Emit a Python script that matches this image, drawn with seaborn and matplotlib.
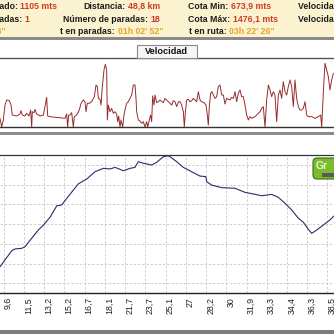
import matplotlib
matplotlib.use("Agg")
import matplotlib.pyplot as plt
import seaborn as sns
from matplotlib.patches import Rectangle, FancyBboxPatch
from matplotlib.transforms import ScaledTranslation

# ---------------- data ----------------
tick_labels = ["9,6", "11,5", "13,2", "15,2", "16,7", "18,1", "21,7", "23,7", "25,1",
               "27", "28,2", "30", "31,9", "33,3", "34,4", "36,3", "38,5"]

elev_pos = [-0.17, 0.07, 0.41, 0.57, 0.90, 1.06, 1.39, 1.72, 1.97, 2.30,
            2.63, 2.87, 3.28, 3.69, 4.11, 4.52, 4.93, 5.26, 5.51, 5.92,
            6.25, 6.49, 6.66, 6.90, 7.32, 7.57, 7.89, 8.14, 8.22, 8.55,
            8.88, 9.29, 9.70, 9.99, 10.04, 10.28, 10.78, 11.43, 11.93, 12.34,
            12.75, 13.24, 13.57, 13.90, 14.23, 14.56, 14.81, 15.05, 15.22, 15.47,
            15.79, 16.12, 16.32]
elev_m = [884, 918, 965, 974, 977, 985, 1028, 1070, 1095, 1135,
          1193, 1197, 1251, 1304, 1329, 1366, 1383, 1380, 1388, 1371,
          1383, 1388, 1417, 1409, 1400, 1414, 1442, 1447, 1442, 1417,
          1388, 1366, 1344, 1341, 1315, 1298, 1285, 1282, 1261, 1253,
          1244, 1251, 1236, 1206, 1172, 1130, 1109, 1074, 1053, 1070,
          1095, 1121, 1141]

speed_sample = [0, 5, 10, 15, 20, 28, 33, 37, 50, 60,
                63, 67, 75, 80, 87, 92, 95, 97, 102, 105,
                110, 120, 130, 135, 140, 143, 150, 165, 180, 195,
                200, 203, 206, 210, 215, 220, 223, 230, 238, 243,
                250, 255, 258, 262, 268, 275, 283, 288, 292, 295,
                300, 303, 307, 312, 316, 320, 322, 325, 330, 335,
                340, 345, 350, 353, 356, 360, 363, 368, 372, 376,
                380, 385, 395, 400, 405, 408, 410, 415, 420, 425,
                430, 435, 440, 443, 448, 452, 455, 458, 462, 465,
                470, 475, 480, 490, 495, 500, 505, 510, 515, 520,
                525, 530, 535, 540, 545, 550, 553, 556, 560, 565,
                570, 575, 580, 585, 590, 595, 600, 605, 612, 618,
                622, 625, 628, 632, 636, 640, 645, 650, 655, 660,
                665, 670, 675, 680, 685, 690, 695, 700, 705, 710,
                715, 720, 725, 730, 735, 740, 745, 750, 755, 760,
                765, 770, 775, 780, 785, 790, 795, 800, 805, 810,
                815, 820, 825, 830, 835, 840, 845, 850, 855, 860,
                865, 870, 875, 880, 885, 890, 895, 900, 905, 910,
                915, 920, 925, 935, 945, 955, 962, 965, 968, 972,
                975, 980, 985, 990, 995, 1000]
speed_kmh = [7.5, 0, 6.1, 19.1, 23.5, 22.9, 19.1, 10.4, 9.6, 11.3,
             14.2, 10.4, 9.6, 11.9, 9.6, 14.8, 0, 13.3, 12.5, 15.4,
             11.3, 9.6, 10.4, 17.7, 25.8, 9.6, 9.0, 8.4, 8.1, 7.5,
             11.3, 0, 10.4, 10.4, 12.5, 0, 9.0, 10.4, 14.8, 20.6,
             23.5, 22.0, 13.3, 20.6, 20.6, 22.0, 26.4, 36.5, 35.1, 24.9,
             24.1, 19.1, 35.1, 49.6, 54.5, 49.6, 6.1, 19.1, 13.3, 16.2,
             11.9, 13.3, 11.3, 4.6, 9.6, 0, 6.1, 0, 10.4, 16.2,
             20.6, 22.0, 27.8, 36.5, 36.5, 24.9, 13.3, 6.1, 5.2, 3.2,
             4.6, 0, 4.6, 0, 6.1, 10.4, 4.6, 27.0, 19.1, 27.8,
             21.2, 22.0, 23.5, 21.2, 24.9, 23.5, 22.0, 20.6, 19.1, 22.9,
             22.0, 17.7, 22.0, 22.0, 19.1, 13.3, 0, 12.5, 23.5, 24.1,
             22.0, 22.9, 24.9, 23.5, 22.0, 30.7, 23.5, 22.0, 21.2, 19.1,
             10.4, 1.7, 17.7, 29.3, 30.7, 27.8, 24.9, 26.4, 35.1, 36.5,
             27.8, 27.8, 20.0, 24.9, 24.1, 23.5, 25.8, 24.9, 30.7, 22.0,
             29.3, 32.2, 26.4, 26.4, 19.1, 10.4, 6.1, 9.0, 7.5, 8.4,
             9.0, 10.4, 11.9, 13.3, 16.2, 17.7, 0, 23.5, 36.5, 32.2,
             26.4, 30.7, 27.8, 4.6, 27.8, 32.2, 24.9, 39.4, 30.7, 27.8,
             35.1, 40.9, 35.1, 17.7, 40.9, 24.9, 17.7, 14.8, 14.8, 16.2,
             22.0, 10.4, 9.0, 9.0, 7.5, 9.0, 10.4, 0, 17.7, 40.9,
             55.4, 49.6, 43.8, 32.2, 40.9, 46.7]

header_rows = [
    ["Desnivel acumulado:", "Distancia:", "Cota Min:", "Velocidad media:"],
    ["Paradas:", "Número de paradas:", "Cota Máx:", "Velocidad máxima:"],
    ["", "t en paradas:", "t en ruta:", ""],
]
header_values = [
    ["1105 mts", "48,8 km", "673,9 mts", ""],
    ["1", "18", "1476,1 mts", ""],
    ["04h 25' 18\"", "01h 02' 52\"", "03h 22' 26\"", ""],
]

# ---------------- style ----------------
sns.set_style("white")
plt.rcParams['font.family'] = ['Liberation Sans', 'DejaVu Sans']

W = H = 334
fig = plt.figure(figsize=(3.34, 3.34), dpi=100)
fig.patch.set_facecolor('white')


def fx(px):
    return px / W


def fy(py):
    return 1 - py / H


def frect(x0, y0, x1, y1, **kw):
    fig.patches.append(Rectangle((fx(x0), fy(y1)), fx(x1) - fx(x0), fy(y0) - fy(y1),
                                 transform=fig.transFigure, **kw))


# header band
frect(0, 0, 334, 37, facecolor='#fbf3cf', edgecolor='none', zorder=0)
frect(0, 37, 334, 40, facecolor='#8a8a8a', edgecolor='none', zorder=0)

ax_h = fig.add_axes([0, 0, 1, 1])
ax_h.set_axis_off()
ax_h.set_xlim(0, W)
ax_h.set_ylim(H, 0)
ax_h.patch.set_alpha(0)
ax_h.set_zorder(20)

LABEL_C = '#1c1c1c'
RED = '#cf3a26'
ORANGE = '#e6a42c'
row_y = [6.5, 19.0, 31.5]
fs_h = 6.3
GAP = 2.5
col_layout = [
    [('R', 57.5), ('R', 29.5), ('R', 5.5)],
    [('R', 160), ('R', 160), ('R', 163)],
    [('L', 188), ('L', 188), ('L', 189)],
    [('L', 298), ('L', 298), ('L', 298)],
]
for r in range(3):
    for c in range(4):
        lab = header_rows[r][c]
        val = header_values[r][c]
        mode, x = col_layout[c][r]
        vcol = ORANGE if r == 2 else RED
        kw = dict(fontsize=fs_h, fontweight='bold', va='center')
        if mode == 'L':
            if lab:
                t = ax_h.text(x, row_y[r], lab, ha='left', color=LABEL_C, clip_on=False, **kw)
                if val:
                    ax_h.annotate(val, xy=(1, 0.5), xycoords=t, xytext=(GAP, 0),
                                  textcoords='offset pixels', ha='left', color=vcol,
                                  annotation_clip=False, **kw)
        else:
            if val:
                t = ax_h.text(x, row_y[r], val, ha='right', color=vcol, clip_on=False, **kw)
                if lab:
                    ax_h.annotate(lab, xy=(0, 0.5), xycoords=t, xytext=(-GAP, 0),
                                  textcoords='offset pixels', ha='right', color=LABEL_C,
                                  annotation_clip=False, **kw)

# ---------------- velocity panel ----------------
ax_v = fig.add_axes([0, fy(127), 1, 69 / H])
sns.lineplot(x=speed_sample, y=speed_kmh, ax=ax_v, color='#982c2c', linewidth=0.7,
             estimator=None, sort=False)
ax_v.set_xlim(0, 1002)
ax_v.set_ylim(0, 60)
ax_v.set_xticks([])
ax_v.set_yticks([])
ax_v.set_xlabel("")
ax_v.set_ylabel("")
for s in ['left', 'right']:
    ax_v.spines[s].set_visible(False)
ax_v.spines['top'].set_color('#555555')
ax_v.spines['top'].set_linewidth(1.0)
ax_v.spines['bottom'].set_color('#333333')
ax_v.spines['bottom'].set_linewidth(1.0)

frect(0, 132, 334, 135, facecolor='#8c8c8c', edgecolor='none')

# tab
frect(136.5, 45.5, 197, 58, facecolor='#f6f6f6', edgecolor='#8a8a8a', linewidth=0.8, zorder=5)
fig.text(fx(166.5), fy(51.8), "Velocidad", ha='center', va='center', fontsize=6.6,
         fontweight='bold', color='#111111', zorder=6)

# ---------------- elevation panel ----------------
ax_e = fig.add_axes([0, fy(293), 1, 138 / H])
sns.lineplot(x=elev_pos, y=elev_m, ax=ax_e, color='#2a2d6a', linewidth=0.8,
             estimator=None, sort=False)
ax_e.set_xlim(-0.173, 16.321)
ax_e.set_ylim(750.3, 1450.8)
ax_e.set_yticks([800, 900, 1000, 1100, 1200, 1300, 1400])
ax_e.set_yticklabels([])
ax_e.tick_params(axis='y', length=0)
ax_e.set_xticks(list(range(len(tick_labels))))
ax_e.set_xticklabels(tick_labels, rotation=90, fontsize=6.3, color='#222222',
                     va='top', ha='center')
ax_e.tick_params(axis='x', direction='out', length=7.2, width=0.8, color='#222222', pad=0)
offset = ScaledTranslation(4.5 / 100, 6 / 100, fig.dpi_scale_trans)
for lbl in ax_e.get_xticklabels():
    lbl.set_transform(lbl.get_transform() + offset)
ax_e.grid(True, color='#c9c9c9', linestyle=(0, (3, 2)), linewidth=0.6)
ax_e.set_axisbelow(True)
ax_e.set_xlabel("")
ax_e.set_ylabel("")
for s in ['left', 'right']:
    ax_e.spines[s].set_visible(False)
ax_e.spines['top'].set_color('#333333')
ax_e.spines['top'].set_linewidth(0.9)
ax_e.spines['bottom'].set_color('#222222')
ax_e.spines['bottom'].set_linewidth(1.0)

# logo
logo = FancyBboxPatch((fx(313), fy(179)), fx(30), fy(158) - fy(179),
                      boxstyle="round,pad=0,rounding_size=0.012",
                      transform=fig.transFigure, facecolor='#7cbb2c',
                      edgecolor='#3e6b14', linewidth=0.8, zorder=7)
fig.patches.append(logo)
frect(322, 173, 334, 177, facecolor='#5a5a5a', edgecolor='none', zorder=8)
fig.text(fx(316), fy(166), "Gr", ha='left', va='center', fontsize=7.5,
         fontweight='bold', color='#e8f5d0', zorder=9)

# bottom bar
frect(0, 329.5, 334, 334, facecolor='#7c7c7c', edgecolor='none')

fig.savefig("out.png", dpi=100, facecolor='white')
